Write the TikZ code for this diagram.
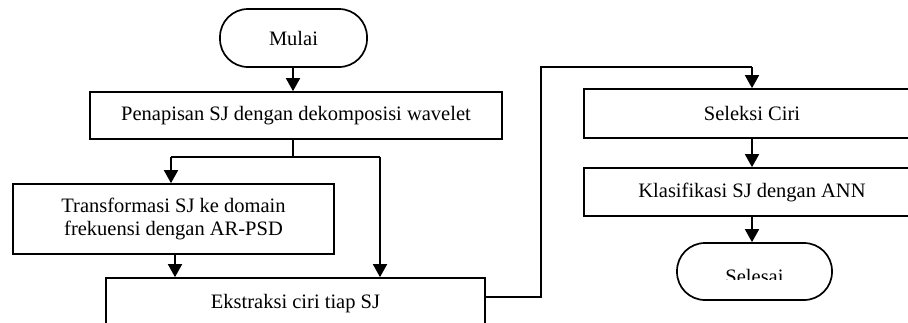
\documentclass[tikz,border=0pt]{standalone}
\usepackage{fontspec}
\setmainfont{Liberation Serif}
\usetikzlibrary{arrows.meta}
\begin{document}
\begin{tikzpicture}[x=1pt,y=-1pt,
  lbl/.style={font=\fontsize{20.5}{23.5}\selectfont, align=center, inner sep=0pt},
  box/.style={lbl, draw, line width=1.7pt, rectangle},
  term/.style={box, rounded corners=28pt},
  flow/.style={line width=1.7pt, -{Triangle[width=14pt,length=13pt]}},
  link/.style={line width=1.7pt}]
\useasboundingbox (0,0) rectangle (908,322);
\clip (0,0) rectangle (908,322);

% process steps
\node[term, minimum width=147pt, minimum height=58pt] (mulai) at (293.5,38) {\raisebox{-2pt}{Mulai}};
\node[box, minimum width=412pt, minimum height=47pt] (tapis) at (296,115.5) {Penapisan SJ dengan dekomposisi wavelet};
\node[box, minimum width=321pt, minimum height=70pt] (psd) at (173.5,219) {Transformasi SJ ke domain\\frekuensi dengan AR-PSD};
\node[box, minimum width=379pt, minimum height=52pt] (ekstr) at (295.5,304) {Ekstraksi ciri tiap SJ};
\node[box, minimum width=336pt, minimum height=49pt] (seleksi) at (752,113.5) {Seleksi Ciri};
\node[box, minimum width=336pt, minimum height=48pt] (klas) at (752,192) {Klasifikasi SJ dengan ANN};
\node[term, minimum width=155pt, minimum height=57pt] (selesai) at (754.5,271.5) {};
\begin{scope}
  \clip (660,240) rectangle (850,279);
  \node[lbl, yshift=-5pt] (selesaiLabel) at (selesai) {Selesai};
\end{scope}

% junction points
\coordinate (split) at (293,157);
\coordinate (splitL) at (171,157);
\coordinate (splitR) at (380,157);
\coordinate (outE) at (541,297);
\coordinate (upE) at (541,67);
\coordinate (topS) at (752,67);

% connectors
\draw[flow] (mulai.south -| split) -- (tapis.north -| split);
\draw[link] (tapis.south -| split) -- (split);
\draw[link] (splitL) -- (splitR);
\draw[flow] (splitL) -- (psd.north -| splitL);
\draw[flow] (splitR) -- (ekstr.north -| splitR);
\draw[flow] ([xshift=1.5pt]psd.south) -- ([xshift=1.5pt]psd.south |- ekstr.north);
\draw[link] (ekstr.east |- outE) -- (outE) -- (upE) -- (topS);
\draw[flow] (topS) -- (seleksi.north);
\draw[flow] (seleksi.south) -- (klas.north);
\draw[flow] (klas.south) -- (selesai.north -| klas.south);
\end{tikzpicture}
\end{document}
